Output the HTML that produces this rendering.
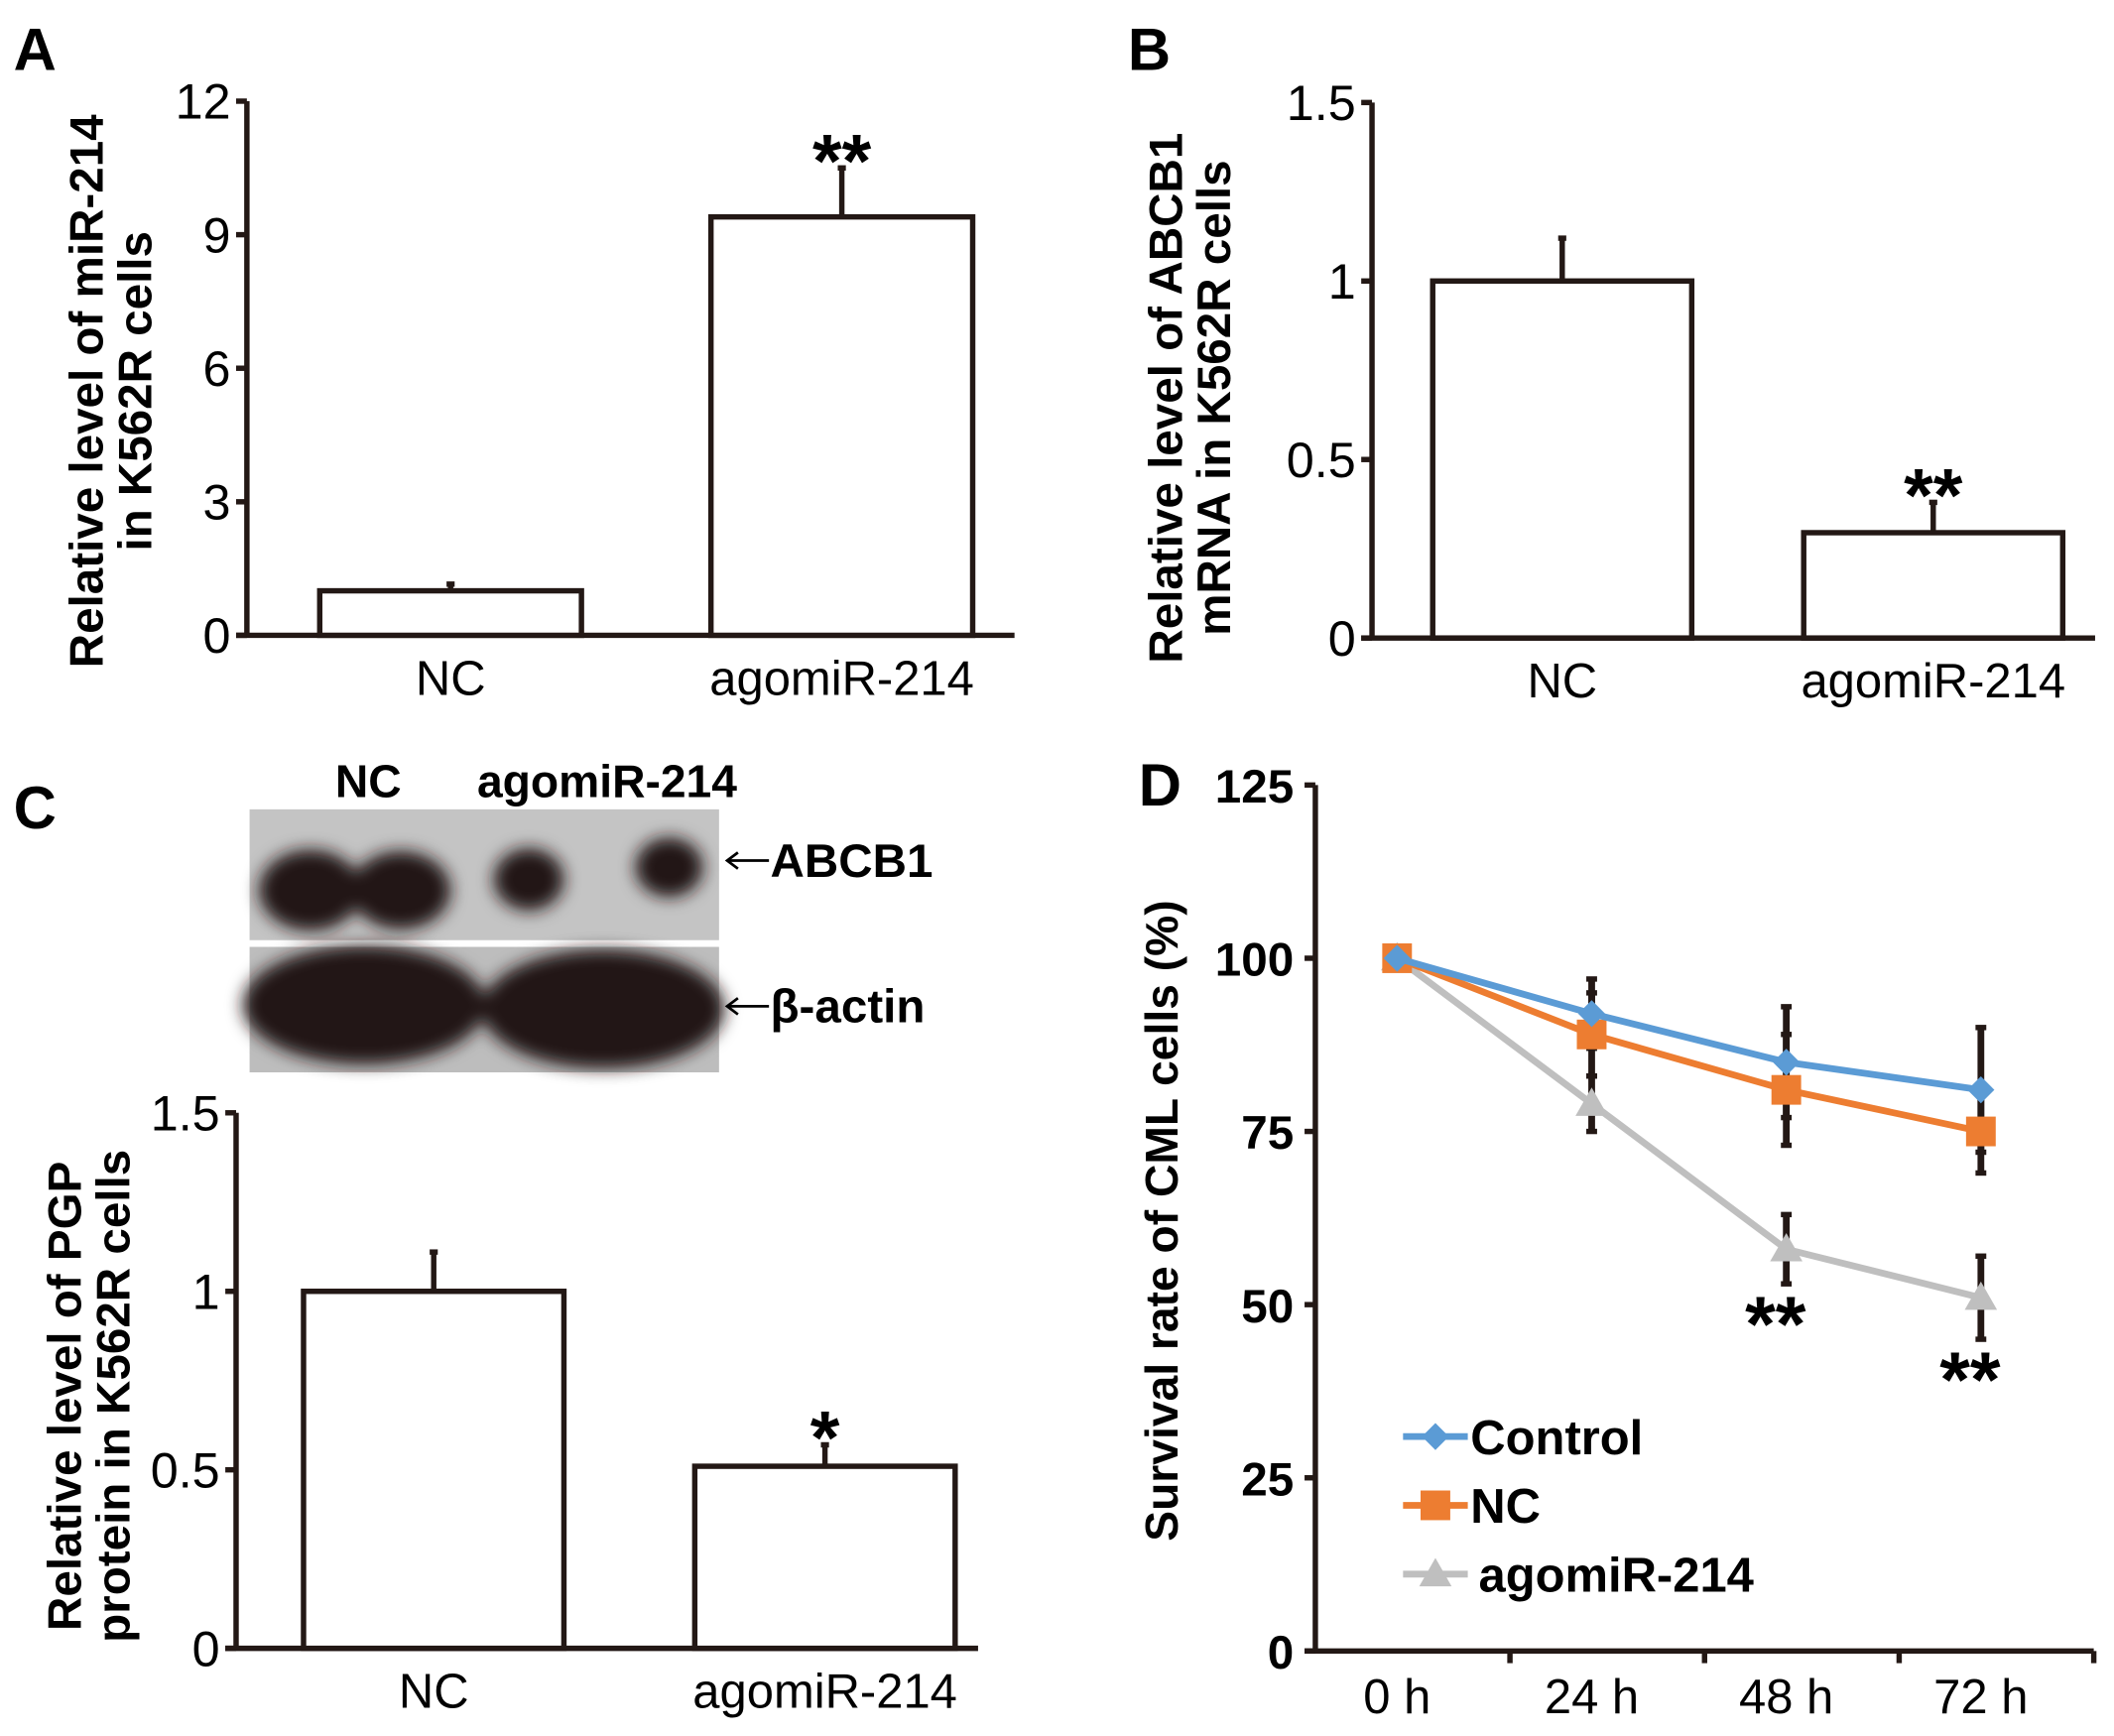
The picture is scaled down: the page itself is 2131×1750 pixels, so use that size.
<!DOCTYPE html>
<html><head><meta charset="utf-8"><style>
html,body{margin:0;padding:0;background:#fff}
svg{display:block}
text{font-family:"Liberation Sans",Arial,sans-serif;fill:#000}
</style></head><body>
<svg id="fig" width="2131" height="1750" viewBox="0 0 1567 1287" preserveAspectRatio="none" xmlns="http://www.w3.org/2000/svg">
<defs><filter id="blur" x="-20%" y="-40%" width="140%" height="180%"><feGaussianBlur stdDeviation="6"/></filter></defs>
<g id="blot">
<rect x="185" y="600" width="348" height="97" fill="#c4c4c4"/>
<rect x="185" y="702" width="348" height="93" fill="#bdbdbd"/>
<g filter="url(#blur)">
<ellipse cx="230" cy="660" rx="38" ry="30" fill="#231815"/>
<ellipse cx="297" cy="660" rx="37" ry="29" fill="#231815"/>
<rect x="230" y="646" width="67" height="24" fill="#231815"/>
<ellipse cx="392" cy="652" rx="26" ry="23" fill="#231815"/>
<ellipse cx="496" cy="643" rx="25" ry="22" fill="#231815"/>
<ellipse cx="270" cy="745" rx="90" ry="44" fill="#231815"/>
<ellipse cx="447" cy="748" rx="90" ry="44" fill="#231815"/>
</g>
<text x="273" y="591" font-size="34" font-weight="bold" text-anchor="middle">NC</text>
<text x="450" y="591" font-size="34" font-weight="bold" text-anchor="middle">agomiR-214</text>
<line x1="540" y1="638" x2="570" y2="638" stroke="#000" stroke-width="2"/>
<polyline points="547,632 539,638 547,644" fill="none" stroke="#000" stroke-width="2"/>
<text x="571" y="650" font-size="35" font-weight="bold">ABCB1</text>
<line x1="540" y1="746" x2="570" y2="746" stroke="#000" stroke-width="2"/>
<polyline points="547,740 539,746 547,752" fill="none" stroke="#000" stroke-width="2"/>
<text x="571" y="758" font-size="35" font-weight="bold">β-actin</text>
</g>
</svg>
<script>
// ---- Panel A data ----
const aCats = ["NC", "agomiR-214"];
const aVals = [1.0, 9.4];
const aErr = [0.15, 1.1];
const aTicks = [0, 3, 6, 9, 12];
const aSig = ["", "**"];
// ---- Panel B data ----
const bCats = ["NC", "agomiR-214"];
const bVals = [1.0, 0.295];
const bErr = [0.12, 0.085];
const bTicks = [0, 0.5, 1, 1.5];
const bTickLabels = ["0", "0.5", "1", "1.5"];
const bSig = ["", "**"];
// ---- Panel C data ----
const cCats = ["NC", "agomiR-214"];
const cVals = [1.0, 0.51];
const cErr = [0.11, 0.06];
const cTicks = [0, 0.5, 1, 1.5];
const cTickLabels = ["0", "0.5", "1", "1.5"];
const cSig = ["", "*"];
// ---- Panel D data ----
const dCats = ["0 h", "24 h", "48 h", "72 h"];
const dTicks = [0, 25, 50, 75, 100, 125];
const dControl = [100, 92, 85, 81];
const dControlErr = [0, 5, 8, 9];
const dNC = [100, 89, 81, 75];
const dNCErr = [0, 6, 8, 6];
const dAgo = [100, 79, 58, 51];
const dAgoErr = [0, 4, 5, 6];
const dSig = ["", "", "**", "**"];

const NS = "http://www.w3.org/2000/svg";
const svg = document.getElementById("fig");
const INK = "#231815";
function mk(tag, attrs, parent) {
  const e = document.createElementNS(NS, tag);
  for (const k in attrs) e.setAttribute(k, attrs[k]);
  (parent || svg).appendChild(e);
  return e;
}
function txt(s, attrs, parent) { const e = mk("text", attrs, parent); e.textContent = s; return e; }

function barPanel(o) {
  const g = mk("g", {});
  
  
  const ymax = o.ticks[o.ticks.length - 1];
  const y = v => o.y0 - (v / ymax) * (o.y0 - o.yTop);
  const ya = mk("line", {x1: o.ax, y1: o.yTop, x2: o.ax, y2: o.y0, stroke: INK, "stroke-width": 4}, g);
  
  
  const xa = mk("line", {x1: o.ax - 8, y1: o.y0, x2: o.xEnd, y2: o.y0, stroke: INK, "stroke-width": 4}, g);
  
  
  o.ticks.forEach((t, i) => {
    const tk = mk("line", {x1: o.ax - 8, y1: y(t), x2: o.ax, y2: y(t), stroke: INK, "stroke-width": 4}, g);
    
    
    const lb = txt(o.labels ? o.labels[i] : String(t), {x: o.ax - 12, y: y(t) + 13, "font-size": 37, "text-anchor": "end"}, g);
    
    
  });
  o.cats.forEach((c, i) => {
    const x0 = o.barX[i], w = o.barW;
    const v = o.vals[i];
    const e = o.err[i];
    const cx = x0 + w / 2;
    const el = mk("line", {x1: cx, y1: y(v), x2: cx, y2: y(v + e), stroke: INK, "stroke-width": 4}, g);
    
    
    const cap = mk("line", {x1: cx - 3, y1: y(v + e), x2: cx + 3, y2: y(v + e), stroke: INK, "stroke-width": 4}, g);
    
    
    const b = mk("rect", {x: x0, y: y(v), width: w, height: o.y0 - y(v), fill: "#fff", stroke: INK, "stroke-width": 4}, g);
    
    
    const xl = txt(c, {x: cx, y: o.y0 + 44, "font-size": 36, "text-anchor": "middle"}, g);
    
    
    if (o.sig[i]) {
      const s = txt(o.sig[i], {x: cx, y: y(v + e) + 14, "font-size": 56, "font-weight": "bold", "text-anchor": "middle"}, g);
      
      
    }
  });
  const tt = txt("", {transform: `translate(${o.titleX},${o.titleY}) rotate(-90)`, "font-size": 35, "font-weight": "bold", "text-anchor": "middle"}, g);
  
  
  o.title.forEach((line, k) => {
    const ts = mk("tspan", {x: 0, dy: k === 0 ? 0 : 36}, tt);
    ts.textContent = line;
  });
  const pl = txt(o.letter, {x: o.lx, y: o.ly, "font-size": 44, "font-weight": "bold"}, g);
  
  
}

barPanel({name: "panel-a", cats: aCats, vals: aVals, err: aErr, ticks: aTicks, sig: aSig,
  ax: 183, yTop: 75, y0: 471, xEnd: 752, barX: [237, 527], barW: 194,
  title: ["Relative level of miR-214", "in K562R cells"], titleX: 76, titleY: 290, letter: "A", lx: 10, ly: 52});
barPanel({name: "panel-b", cats: bCats, vals: bVals, err: bErr, ticks: bTicks, labels: bTickLabels, sig: bSig,
  ax: 1017, yTop: 76, y0: 473, xEnd: 1553, barX: [1062, 1337], barW: 192,
  title: ["Relative level of ABCB1", "mRNA in K562R cells"], titleX: 876, titleY: 295, letter: "B", lx: 836, ly: 52});
barPanel({name: "panel-c", cats: cCats, vals: cVals, err: cErr, ticks: cTicks, labels: cTickLabels, sig: cSig,
  ax: 175, yTop: 825, y0: 1222, xEnd: 725, barX: [225, 515], barW: 193,
  title: ["Relative level of PGP", "protein in K562R cells"], titleX: 60, titleY: 1035, letter: "C", lx: 10, ly: 614});

// ---- Panel D ----
(function () {
  const g = mk("g", {});
  
  
  const ax = 975, yTop = 582, y0 = 1224, xEnd = 1552;
  const band = (xEnd - ax) / dCats.length;
  const ymax = dTicks[dTicks.length - 1];
  const y = v => y0 - (v / ymax) * (y0 - yTop);
  const x = i => ax + band * (i + 0.42);
  const ya = mk("line", {x1: ax, y1: yTop, x2: ax, y2: y0, stroke: INK, "stroke-width": 4}, g);
  
  
  const xa = mk("line", {x1: ax - 8, y1: y0, x2: xEnd, y2: y0, stroke: INK, "stroke-width": 4}, g);
  
  
  dTicks.forEach(t => {
    const tk = mk("line", {x1: ax - 8, y1: y(t), x2: ax, y2: y(t), stroke: INK, "stroke-width": 4}, g);
    
    
    const lb = txt(String(t), {x: ax - 16, y: y(t) + 13, "font-size": 35, "font-weight": "bold", "text-anchor": "end"}, g);
    
    
  });
  dCats.forEach((c, i) => {
    const tk = mk("line", {x1: ax + band * (i + 1), y1: y0, x2: ax + band * (i + 1), y2: y0 + 9, stroke: INK, "stroke-width": 4}, g);
    
    
    const lb = txt(c, {x: x(i), y: y0 + 46, "font-size": 36, "text-anchor": "middle"}, g);
    
    
  });
  const series = [
    {name: "control", vals: dControl, err: dControlErr, color: "#5b9bd5", mark: "diamond"},
    {name: "nc", vals: dNC, err: dNCErr, color: "#ed7d31", mark: "square"},
    {name: "agomir-214", vals: dAgo, err: dAgoErr, color: "#bfbfbf", mark: "triangle"}
  ];
  function marker(kind, cx, cy, color, parent) {
    let m;
    if (kind === "diamond") m = mk("polygon", {points: `${cx},${cy-10} ${cx+10},${cy} ${cx},${cy+10} ${cx-10},${cy}`, fill: color}, parent);
    else if (kind === "square") m = mk("rect", {x: cx - 11, y: cy - 11, width: 22, height: 22, fill: color}, parent);
    else m = mk("polygon", {points: `${cx},${cy-12} ${cx+12},${cy+9} ${cx-12},${cy+9}`, fill: color}, parent);
    return m;
  }
  series.forEach(s => s.vals.forEach((v, i) => {
    if (!s.err[i]) return;
    const e = mk("line", {x1: x(i), y1: y(v + s.err[i]), x2: x(i), y2: y(v - s.err[i]), stroke: INK, "stroke-width": 5}, g);
    
    
    [v + s.err[i], v - s.err[i]].forEach(vv => {
      const cp = mk("line", {x1: x(i) - 4, y1: y(vv), x2: x(i) + 4, y2: y(vv), stroke: INK, "stroke-width": 4}, g);
      
      
    });
  }));
  series.slice().reverse().forEach(s => {
    const sg = mk("g", {}, g);
    
    
    const pl = mk("polyline", {points: s.vals.map((v, i) => `${x(i)},${y(v)}`).join(" "), fill: "none", stroke: s.color, "stroke-width": 5}, sg);
    
    
    s.vals.forEach((v, i) => {
      const m = marker(s.mark, x(i), y(v), s.color, sg);
      
      
    });
  });
  dSig.forEach((s, i) => {
    if (!s) return;
    const v = dAgo[i] - dAgoErr[i];
    const t = txt(s, {x: x(i) - 8, y: y(v) + 50, "font-size": 58, "font-weight": "bold", "text-anchor": "middle"}, g);
    
    
  });
  const legendLabels = ["Control", "NC", "agomiR-214"];
  const lg = mk("g", {}, g);
  
  
  series.forEach((s, k) => {
    const ly = 1065 + k * 51;
    const eg = mk("g", {}, lg);
    
    
    mk("line", {x1: 1040, y1: ly, x2: 1088, y2: ly, stroke: s.color, "stroke-width": 5}, eg);
    marker(s.mark, 1064, ly, s.color, eg);
    txt(legendLabels[k], {x: k === 2 ? 1096 : 1090, y: ly + 13, "font-size": 36, "font-weight": "bold"}, eg);
  });
  const tt = txt("Survival rate of CML cells (%)", {transform: "translate(873,905) rotate(-90)", "font-size": 34, "font-weight": "bold", "text-anchor": "middle"}, g);
  
  
  const pl = txt("D", {x: 844, y: 597, "font-size": 44, "font-weight": "bold"}, g);
  
  
})();
</script>
</body></html>
